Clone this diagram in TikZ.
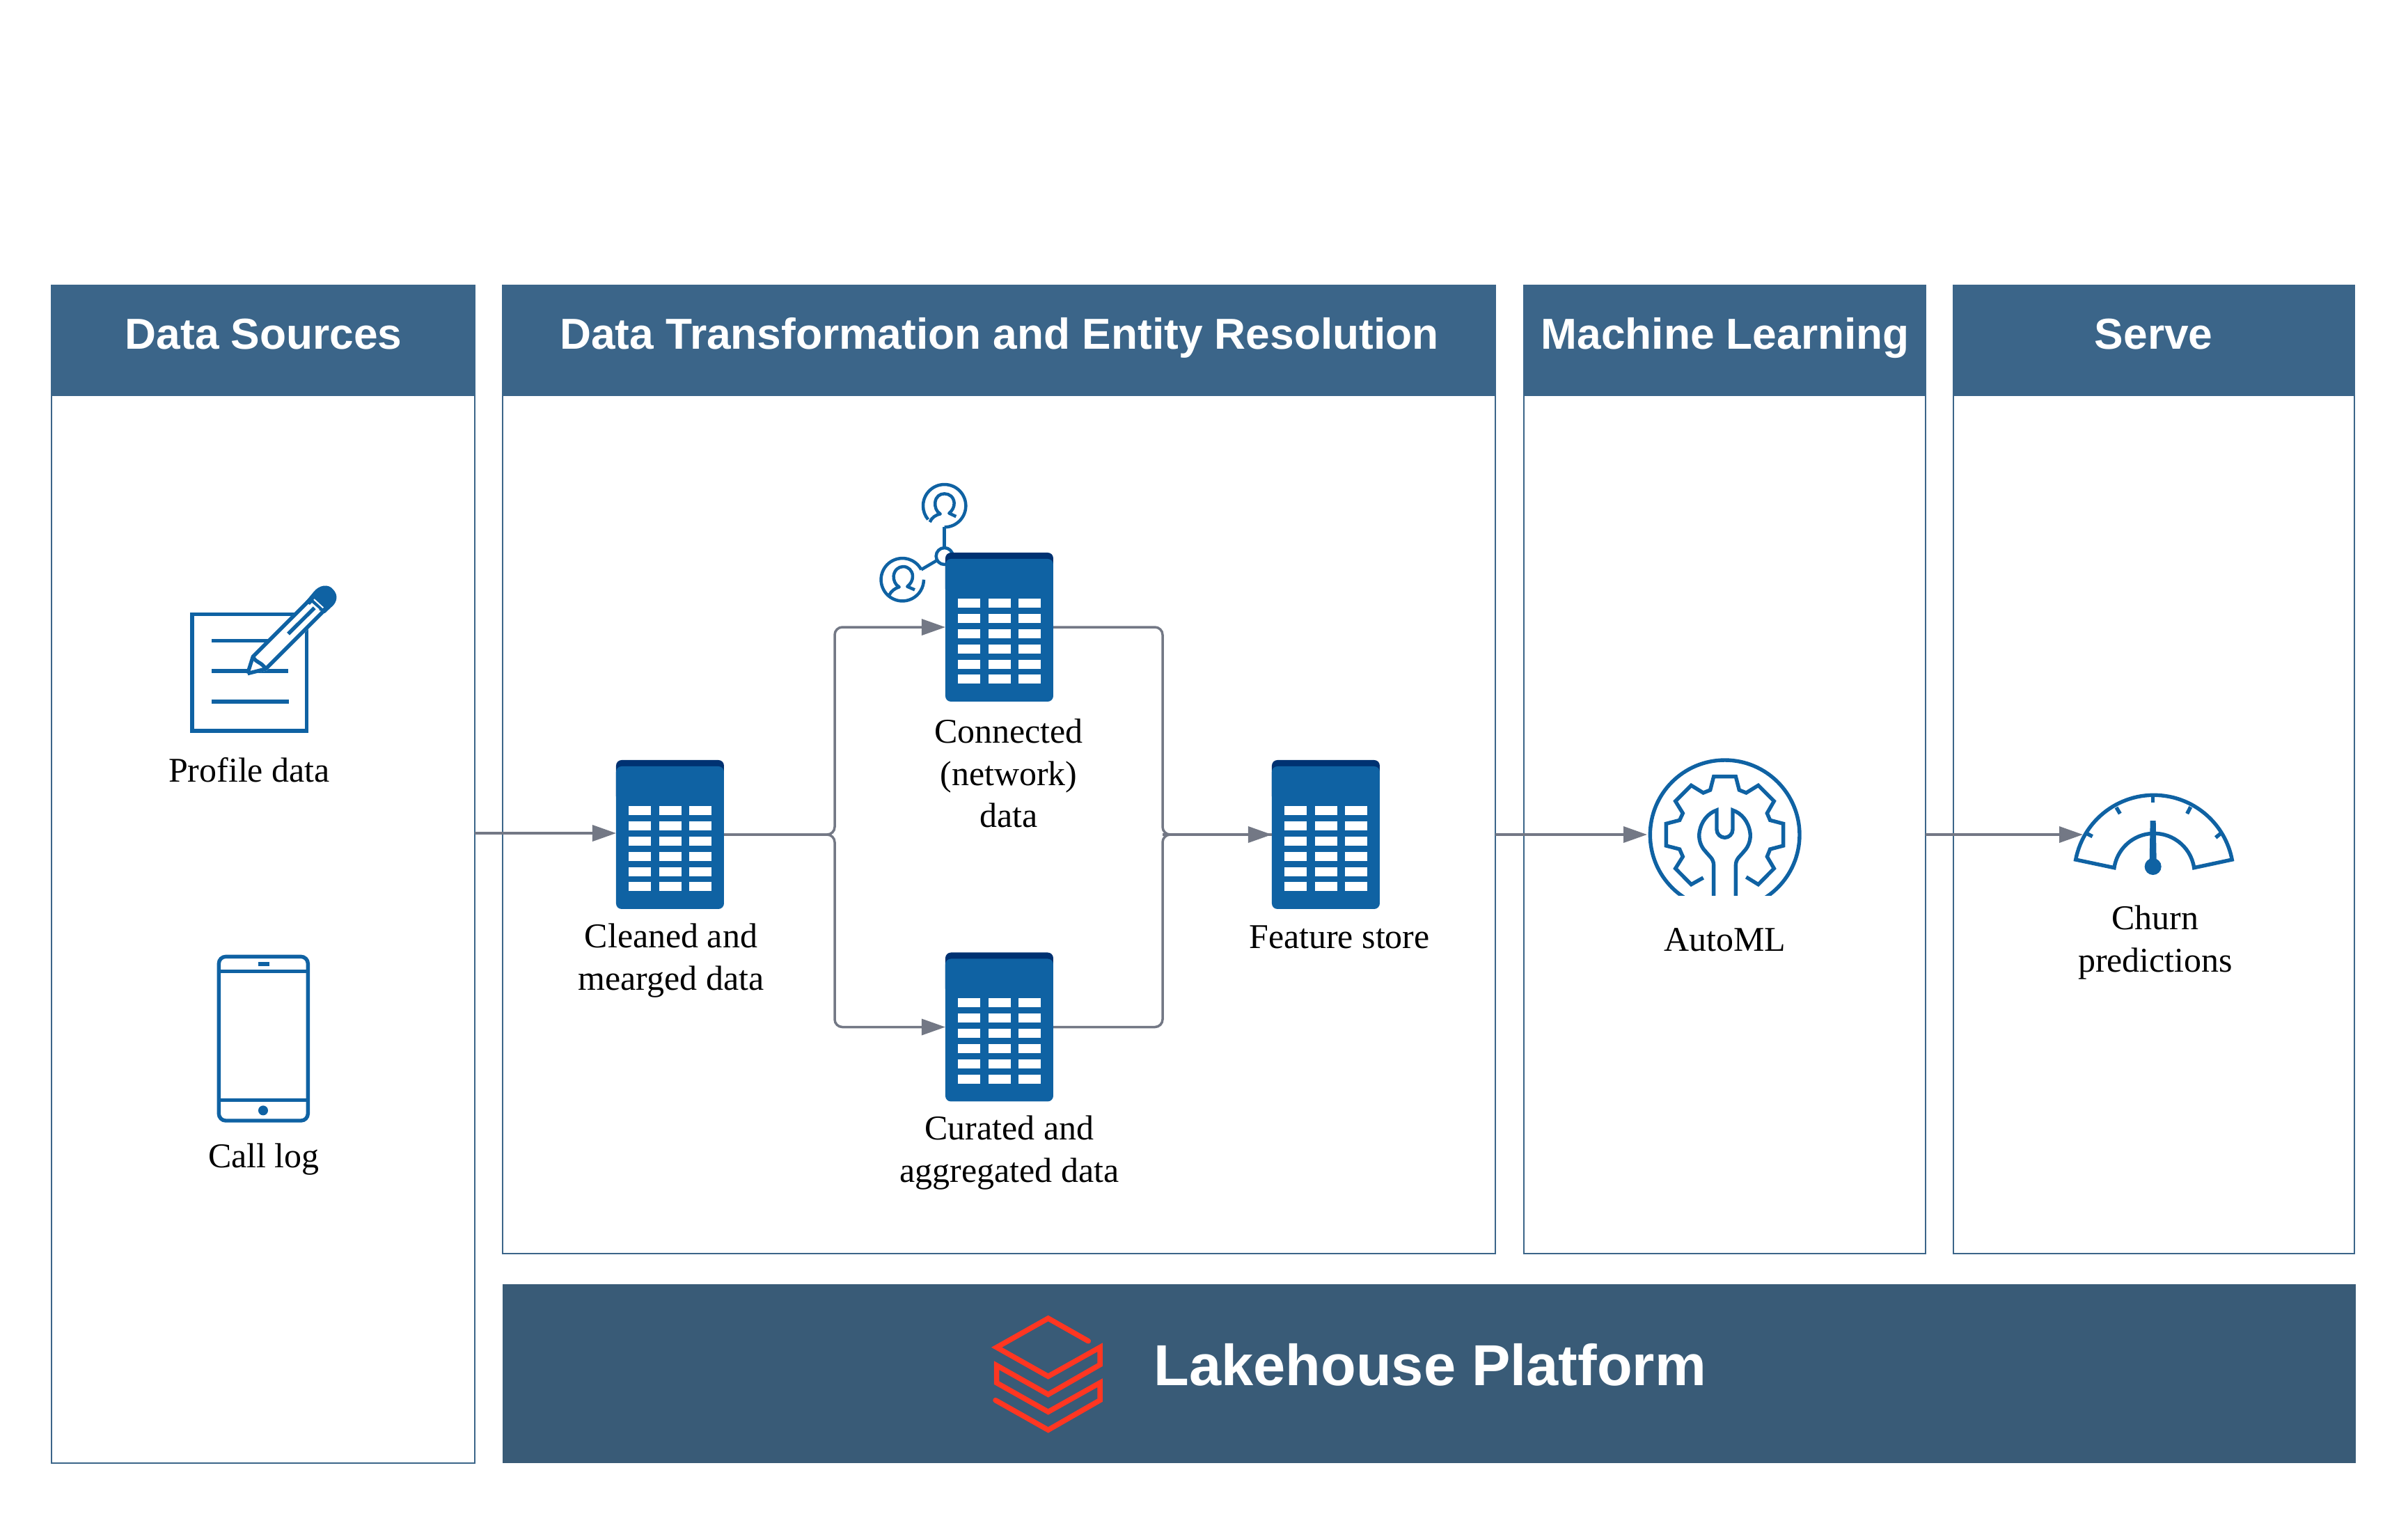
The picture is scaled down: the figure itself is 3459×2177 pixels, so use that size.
\documentclass[tikz,border=0pt]{standalone}
\usepackage{fontspec}
\setmainfont{Liberation Serif}
\newfontfamily\headfont{Liberation Sans}
\usetikzlibrary{arrows.meta,calc}
\definecolor{hdr}{HTML}{3B6589}
\definecolor{lake}{HTML}{395B77}
\definecolor{iconb}{HTML}{0F62A3}
\definecolor{icond}{HTML}{003272}
\definecolor{conng}{HTML}{737885}
\definecolor{dbred}{HTML}{FF3621}
\tikzset{
  panel/.style={draw=hdr,line width=0.02cm,fill=white,inner sep=0,outer sep=0,anchor=north west},
  header/.style={fill=hdr,text=white,inner sep=0,outer sep=0,anchor=north west,text height=0.4cm,text depth=0.16cm,font=\headfont\fontsize{17.7}{21}\bfseries\selectfont,align=center},
  lakebar/.style={fill=lake,inner sep=0,outer sep=0,anchor=north west},
  laketext/.style={text=white,anchor=west,inner sep=0,font=\headfont\fontsize{23.6}{28}\bfseries\selectfont},
  label/.style={text=black,align=center,inner sep=0,font=\fontsize{14.2}{17.1}\selectfont},
  tablebox/.style={minimum width=1.55cm,minimum height=2.14cm,inner sep=0,outer sep=0},
  conn/.style={draw=conng,line width=0.035cm,rounded corners=0.11cm},
  arrowed/.style={-{Triangle[length=0.34cm,width=0.23cm,color=conng]}},
  ico/.style={draw=iconb,line width=0.054cm,line join=miter},
  icofill/.style={fill=iconb},
  tablecell/.style={fill=white},
  logo/.style={draw=dbred,line width=0.075cm,line join=miter},
}
% table icon centred on its node
\newcommand{\tableicon}[2]{%
  \node[tablebox] (#1) at (#2) {};
  \begin{scope}[shift={(#1.north west)}]
    \fill[icond,rounded corners=0.08cm] (0,0) rectangle (155,60);
    \fill[iconb,rounded corners=0.08cm] (0,9) rectangle (155,214);
    \foreach \cx in {18,62,105}{
      \foreach \rw in {0,1,2,3,4,5}{
        \fill[tablecell] (\cx,66+\rw*21.9) rectangle ++(32,13);
      }
    }
  \end{scope}
}
\begin{document}
\begin{tikzpicture}[x=0.01cm,y=-0.01cm]
\useasboundingbox (0,0) rectangle (3459,2177);
\fill[white] (0,0) rectangle (3459,2177);

% panels
\node[panel,minimum width=6.08cm,minimum height=16.91cm] (ds) at (74,410) {};
\node[panel,minimum width=14.25cm,minimum height=13.9cm] (dt) at (722,410) {};
\node[panel,minimum width=5.77cm,minimum height=13.9cm] (ml) at (2189,410) {};
\node[panel,minimum width=5.76cm,minimum height=13.9cm] (sv) at (2806,410) {};
\node[header,minimum width=6.09cm,minimum height=1.59cm] (hds) at (74,410) {Data Sources};
\node[header,minimum width=14.26cm,minimum height=1.59cm] (hdt) at (722,410) {Data Transformation and Entity Resolution};
\node[header,minimum width=5.78cm,minimum height=1.59cm] (hml) at (2189,410) {Machine Learning};
\node[header,minimum width=5.77cm,minimum height=1.59cm] (hsv) at (2805,410) {Serve};
\node[lakebar,minimum width=26.6cm,minimum height=2.57cm] (lk) at (722,1845) {};
\node[laketext] (lkt) at (1657,1961) {Lakehouse Platform};

% Databricks logo
\begin{scope}[shift={(1400,1870)},scale=1/3]
  \draw[logo,line cap=round] (490,170) -- (317,72) -- (95,197) -- (317,322) -- (540,197) -- (540,272) -- (317,400) -- (95,275) -- (95,350) -- (317,475) -- (540,350) -- (540,425) -- (317,553) -- (90,425);
\end{scope}

% profile icon
\begin{scope}[shift={(200,800)},scale=1/3]
  \draw[ico] (228,248) rectangle (722,750);
  \draw[ico] (313,361) -- (560,361);
  \draw[ico] (313,492) -- (642,492);
  \draw[ico] (313,624) -- (645,624);
  \fill[white] (465,510) -- (487,425) -- (775,135) -- (840,200) -- (550,490) -- cycle;
  \draw[ico] (467,503) -- (490,430) -- (765,155);
  \draw[ico] (467,503) -- (545,483) -- (828,200);
  \draw[ico] (490,430) .. controls (505,460) and (525,450) .. (545,483);
  \fill[iconb] (750,153) .. controls (775,120) and (815,115) .. (835,140) .. controls (860,165) and (850,195) .. (835,210) -- (800,243) -- (715,195) -- cycle;
  \draw[white,line width=0.02cm] (753,183) -- (793,220);
  \fill[white] (744,198) -- (776,226) -- (745,257) -- (713,229) -- cycle;
  \draw[ico] (642,332) -- (755,220);
\end{scope}

% phone icon
\begin{scope}[shift={(250,1340)},scale=1/3]
  \draw[ico,rounded corners=0.1cm] (193,103) rectangle (577,810);
  \draw[ico] (193,166) -- (577,166);
  \draw[ico] (193,721) -- (577,721);
  \fill[iconb] (362,127) rectangle (412,144);
  \fill[iconb] (384,766) circle[radius=21];
\end{scope}

% people icon
\begin{scope}[shift={(1220,670)},scale=1/3]
  \tikzset{pp/.style={draw=iconb,line width=0.045cm,line join=round}}
  \draw[pp] (410,262) arc[start angle=90,delta angle=-310,radius=92];
  \draw[pp] (347,240) .. controls (355,220) and (375,208) .. (392,205) .. controls (375,195) and (368,175) .. (370,155) .. controls (373,130) and (390,118) .. (410,118) .. controls (432,118) and (450,132) .. (452,158) .. controls (452,175) and (445,190) .. (430,202) -- (460,216);
  \draw[pp] (410,262) -- (410,352);
  \draw[pp] (410,387) circle[radius=36];
  \draw[pp] (378,405) -- (310,445);
  \draw[pp] (310,445) arc[start angle=-28,delta angle=-332,radius=92];
  \draw[pp] (172,555) .. controls (180,538) and (197,525) .. (215,520) .. controls (197,510) and (190,490) .. (191,472) .. controls (194,447) and (212,432) .. (232,432) .. controls (254,432) and (272,448) .. (273,473) .. controls (273,490) and (266,505) .. (250,518) -- (282,532);
\end{scope}

% tables
\tableicon{t1}{962.5,1199}
\tableicon{t2}{1435.5,901}
\tableicon{t3}{1435.5,1475.5}
\tableicon{t4}{1904.5,1199}

% gear icon
\begin{scope}[shift={(2340,1060)},scale=1/3]
  \begin{scope}
    \clip (50,50) rectangle (780,680);
    \draw[ico] (413,418) circle[radius=322];
    \draw[ico] (365,700) -- (365,550) .. controls (365,520) and (345,510) .. (330,490) .. controls (305,465) and (300,430) .. (303,410) .. controls (310,360) and (340,325) .. (378,312) -- (378,395) .. controls (378,415) and (395,430) .. (413,430) .. controls (430,430) and (447,415) .. (447,395) -- (447,312) .. controls (485,325) and (515,360) .. (522,410) .. controls (525,430) and (520,465) .. (495,490) .. controls (480,510) and (460,520) .. (460,550) -- (460,700);
  \end{scope}
  \draw[ico] (320,603) -- (268,632) -- (200,563) -- (232,512) -- (218,480) -- (160,465) -- (160,370) -- (218,355) -- (232,325) -- (200,273) -- (268,205) -- (320,237) -- (350,225) -- (365,167) -- (460,167) -- (475,225) -- (505,237) -- (557,205) -- (625,273) -- (595,325) -- (608,355) -- (665,370) -- (665,465) -- (608,480) -- (595,512) -- (625,563) -- (557,632) -- (505,600);
\end{scope}

% gauge icon
\begin{scope}[shift={(2940,1110)},scale=1/3]
  \draw[ico] (125,375) arc[start angle=190.9,end angle=349.1,radius=343] -- (635,410) arc[start angle=351.4,end angle=188.6,radius=174] -- cycle;
  \draw[ico] (458,105) -- (458,128);
  \draw[ico] (300,150) -- (316,177);
  \draw[ico] (620,148) -- (605,177);
  \draw[ico] (172,262) -- (197,275);
  \draw[ico] (750,262) -- (728,280);
  \fill[iconb] (446,207) -- (470,207) -- (473,380) -- (443,380) -- cycle;
  \fill[iconb] (458,405) circle[radius=36];
\end{scope}

% connectors
\coordinate (dsout) at (682,1197);
\coordinate (t1in) at (885,1197);
\coordinate (j1) at (1199,1199);
\coordinate (j2) at (1670,1199);
\draw[conn,arrowed] (dsout) -- (t1in);
\draw[conn,arrowed] (t1.east) -- (j1) -- (j1 |- t2.west) -- (t2.west);
\draw[conn,arrowed] (t1.east) -- (j1) -- (j1 |- t3.west) -- (t3.west);
\draw[conn] (t2.east) -- (j2 |- t2.east) -- (j2) -- (t4.west);
\draw[conn] (t3.east) -- (j2 |- t3.east) -- (j2) -- (t4.west);
\draw[conn,arrowed] (j2) -- (t4.west);
\coordinate (dtout) at (dt.east |- t1.east);
\coordinate (mlout) at (ml.east |- t1.east);
\coordinate (gearin) at (2366,1199);
\coordinate (gaugein) at (2992,1199);
\draw[conn,arrowed] (dtout) -- (gearin);
\draw[conn,arrowed] (mlout) -- (gaugein);

% labels
\node[label] (l1) at (358,1106) {Profile data};
\node[label] (l2) at (379,1666) {Call log};
\node[label] (l3) at (964,1380) {Cleaned and\\mearged data};
\node[label] (l4) at (1449,1111) {Connected\\(network)\\data};
\node[label] (l5) at (1450,1656) {Curated and\\aggregated data};
\node[label] (l6) at (1924,1346) {Feature store};
\node[label] (l7) at (2478,1350) {AutoML};
\node[label] (l8) at (3096,1354) {Churn\\predictions};
\end{tikzpicture}
\end{document}
